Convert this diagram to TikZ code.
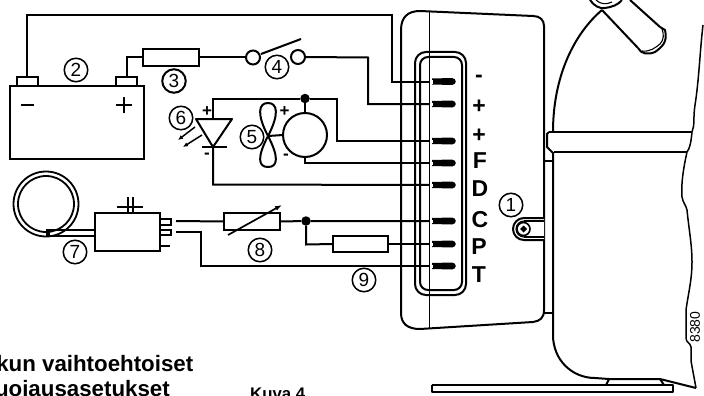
\documentclass[tikz,border=0pt]{standalone}
\usepackage{fontspec}
\setmainfont{Liberation Sans}
\usetikzlibrary{arrows.meta}
\tikzset{
  wire/.style={line width=2pt,line join=miter},
  outline/.style={line width=2pt,line join=round},
  thin outline/.style={line width=1.1pt,line join=round},
  part/.style={draw,line width=2pt,inner sep=0pt,outer sep=0pt,fill=white},
  callout/.style={draw,circle,line width=1.5pt,minimum size=23.5pt,inner sep=0pt,font=\fontsize{19}{19}\selectfont,fill=white},
  pinlabel/.style={font=\fontsize{23}{23}\selectfont\bfseries,inner sep=0pt},
  pol/.style={font=\fontsize{17}{17}\selectfont\bfseries,inner sep=0pt},
  junction/.style={circle,fill=black,minimum size=9.5pt,inner sep=0pt},
  caption/.style={anchor=base east,inner sep=0pt,font=\fontsize{22.3}{22.3}\selectfont\bfseries},
}
\begin{document}
\begin{tikzpicture}[x=1pt,y=-1pt]
\useasboundingbox (0,0) rectangle (704,396);
\clip (0,0) rectangle (704,396);

% panel
\draw[outline] (401,313) -- (401,30) .. controls (401,17) and (408,11) .. (420,11)
  -- (533,16) .. controls (540,16) and (544,20) .. (544,26) -- (544,310)
  .. controls (544,318) and (540,321) .. (533,322) -- (420,329)
  .. controls (408,329) and (401,324) .. (401,313) -- cycle;
\draw[thin outline] (429.7,11) -- (429.7,329);
\draw[outline,rounded corners=11pt] (415,52) rectangle (466,295);
\draw[outline,rounded corners=8pt] (420,57) rectangle (462,290);

% terminal coordinates
\foreach \n/\y in {tm/81.5,tp/104,tq/141,tf/163,td/185,tc/221,tr/244,tt/266}
  \coordinate (\n) at (431,\y);

% battery
\node[part,minimum width=134pt,minimum height=73pt] (bat) at (77,122.5) {};
\node[part,minimum width=21pt,minimum height=9pt] (batm) at (27.2,81.5) {};
\node[part,minimum width=21pt,minimum height=9pt] (batp) at (126.5,81.5) {};
\draw[outline] (21,105) -- (34,105);
\draw[outline] (116,105) -- (132,105) (124,97) -- (124,113);

% fuse, switch
\node[part,minimum width=56pt,minimum height=17pt] (fuse) at (171,57.5) {};
\node[part,circle,minimum size=14pt] (swa) at (253,57.5) {};
\node[part,circle,minimum size=14pt] (swb) at (298,57) {};
\coordinate (swarm) at (301,39);
\draw[outline] (261,54) -- (swarm);

% wires battery side
\coordinate (w1) at (392,14.9);
\coordinate (w2) at (368,57.5);
\draw[wire] (batm.north) -- (27.2,14.9) -- (w1) -- (392,81.5) -- (tm);
\draw[wire] (batp.north) -- (126.5,57.5) -- (fuse.west);
\draw[wire] (fuse.east) -- (swa.west);
\draw[wire] (swb.east) -- (w2) -- (368,104) -- (tp);

% motor and fan
\node[part,circle,minimum size=44pt] (mot) at (305,135) {};
\node[junction] (j1) at (305,98.5) {};
\coordinate (fan) at (268,136);
\draw[outline,fill=white] (fan) .. controls (257,115) and (258,103) .. (268,103)
  .. controls (278,103) and (279,115) .. (fan)
  .. controls (279,157) and (278,167) .. (268,167)
  .. controls (258,167) and (257,157) .. (fan) -- cycle;
\draw[wire] (fan) -- (mot.west);
\draw[wire] (j1) -- (mot.north);
\draw[wire] (j1) -- (337,98.5) -- (337,141) -- (tq);
\draw[wire] (mot.south) -- (305,163) -- (tf);

% diode
\coordinate (da) at (213,119);
\coordinate (dc) at (213,147);
\draw[outline] (196,119) -- (232,119) -- (dc) -- cycle;
\draw[outline] (202,147) -- (227,147);
\draw[wire] (j1) -- (213,98.5) -- (da);
\draw[wire] (dc) -- (213,184.5) -- (td);
\draw[line width=1.5pt,-{Latex[length=5pt,width=4.5pt]}] (195,127) -- (178,140);
\draw[line width=1.5pt,-{Latex[length=5pt,width=4.5pt]}] (202,135) -- (183,147);
\node[pol] (dp) at (207,112) {+};
\node[pol] (dm) at (207,155.5) {-};
\node[pol] (mp) at (284.5,111.5) {+};
\node[pol] (mm) at (286,156.5) {-};

% thermostat
\draw[line width=1.8pt] (46,204) circle[radius=32.5pt];
\draw[line width=1.8pt] (46,204) circle[radius=28pt];
\node[part,minimum width=65pt,minimum height=38pt] (ctl) at (127.5,232) {};
\draw[line width=1.6pt] (46,230) -- (ctl.west |- 0,230);
\draw[line width=1.6pt] (46,236) -- (ctl.west |- 0,236);
\draw[line width=3.4pt] (46,233.3) -- (50,233.3);
\draw[line width=1.6pt] (128,197) -- (128,213) (133,197) -- (133,213);
\draw[line width=1.6pt] (117,207) -- (143,207);
\draw[line width=1.6pt] (160,219) -- (171,219) -- (171,225) -- (160,225);
\draw[line width=1.6pt] (160,230) -- (171,230) -- (171,235) -- (160,235);
\draw[line width=1.6pt] (160,246) -- (170,246);

% rheostat, resistor
\node[part,minimum width=56pt,minimum height=17pt] (rh) at (252,221.5) {};
\node[part,minimum width=55pt,minimum height=16pt] (res) at (360.5,244) {};
\node[junction] (j2) at (306,221) {};
\coordinate (c1) at (176,221);
\coordinate (c2) at (176,232);
\draw[wire] (c1) -- (rh.west);
\draw[wire] (rh.east) -- (j2) -- (tc);
\draw[wire] (j2) -- (306,244.5) -- (res.west);
\draw[wire] (res.east) -- (tr);
\draw[wire] (c2) -- (201,232) -- (201,266) -- (tt);
\draw[line width=1.7pt,-{Latex[length=7pt,width=5pt]}] (228,235) -- (282,205);

% terminals
\foreach \n in {tm,tp,tq,tf,td,tc,tr,tt}{
  \fill ([xshift=1pt,yshift=-3pt]\n) -- ([xshift=21pt,yshift=-3.5pt]\n)
     .. controls ([xshift=26pt,yshift=-3pt]\n) and ([xshift=26pt,yshift=3pt]\n) .. ([xshift=21pt,yshift=3.5pt]\n)
     -- ([xshift=1pt,yshift=3pt]\n) -- cycle;
  \draw[white,fill=white,line width=0.3pt] ([xshift=-0.5pt,yshift=-1.2pt]\n) rectangle ([xshift=1.5pt,yshift=1.2pt]\n);
}

% pin labels
\node[pinlabel] (l1) at (479,78.5) {-};
\node[pinlabel] (l2) at (479,107) {+};
\node[pinlabel] (l3) at (479,136) {+};
\node[pinlabel] (l4) at (480,161) {F};
\node[pinlabel] (l5) at (480,188.5) {D};
\node[pinlabel] (l6) at (480,220) {C};
\node[pinlabel] (l7) at (479,247) {P};
\node[pinlabel] (l8) at (479,275) {T};

% compressor
\draw[outline] (553,132) .. controls (553,75) and (575,33) .. (602,10);
\draw[outline] (602,10) -- (638,48);
\draw[outline] (630,0) -- (660,27);
\draw[outline] (638,48) .. controls (641,54) and (648,55) .. (655,52)
  .. controls (662,47) and (668,42) .. (665,30) -- (660,27);
\draw[thin outline] (642,51) .. controls (650,52) and (655,48) .. (660,44) .. controls (664,40) and (664,34) .. (662,29);
\draw[outline] (590,0) .. controls (594,6) and (600,9) .. (605,8) .. controls (612,7) and (618,5) .. (622,0);
\draw[thin outline] (596,0) .. controls (600,4) and (606,5) .. (612,2);
\draw[outline] (549,132) -- (692,132);
\draw[outline] (554,152) -- (687,152);
\draw[outline] (549,132) -- (547,134) -- (547,147) -- (553,153);
\draw[outline] (553,152) -- (553,335) .. controls (553,360) and (572,378) .. (595,378) -- (609,379);
\draw[outline] (544,161) -- (553,161);
\draw[outline] (544,313) -- (553,313);
\draw[line width=1.5pt,line join=round] (703,25) .. controls (700,50) and (699,80) .. (695,105)
  .. controls (693,118) and (695,125) .. (692,132)
  .. controls (691,142) and (690,148) .. (687,152)
  .. controls (683,170) and (681,185) .. (682,197)
  .. controls (683,203) and (686,205) .. (687,210)
  .. controls (689,230) and (692,245) .. (692,262)
  .. controls (692,280) and (688,295) .. (686,310)
  -- (686,338) .. controls (686,343) and (690,342) .. (691,347)
  -- (691,361) -- (696,388);

% foot
\draw[line width=2.8pt] (431.5,385) -- (605,385);
\draw[outline] (605,385) -- (673,385) -- (673,392) -- (431.5,392) -- (431.5,385);
\draw[outline] (609,379) -- (606,385);
\draw[outline] (609,379) -- (660,379) -- (696,388);
\draw[outline] (660,379) -- (664,385);

% clamp bolt
\draw[outline,fill=white] (544,218) -- (524,218) arc[start angle=90,delta angle=180,radius=11pt] -- (544,240);
\draw[thin outline] (524,221) arc[start angle=90,delta angle=180,radius=8pt];
\draw[line width=1.2pt] (544,221) -- (524,221) (544,237) -- (524,237);
\node[draw,circle,line width=1.6pt,minimum size=13pt,inner sep=0pt,fill=white] (bolt) at (523.5,229) {};
\fill (523.5,225.5) -- (527,229) -- (523.5,232.5) -- (520,229) -- cycle;

% callouts
\node[callout] (n1) at (511,205) {1};
\node[callout] (n2) at (76,70) {2};
\node[callout,line width=2pt] (n3) at (174,81) {3};
\node[callout] (n4) at (277,67) {4};
\node[callout] (n5) at (252,137) {5};
\node[callout] (n6) at (181,118) {6};
\node[callout] (n7) at (75,252) {7};
\node[callout] (n8) at (260,250) {8};
\node[callout] (n9) at (364,280) {9};

% texts
\node[inner sep=0pt,rotate=90,font=\fontsize{14}{14}\selectfont] (code) at (695,327) {8380};
\node[caption] (t1) at (193.5,371) {kun vaihtoehtoiset};
\node[caption] (t2) at (170,396) {suojausasetukset};
\node[anchor=base east,inner sep=0pt,font=\fontsize{16.8}{16.8}\selectfont\bfseries] (t3) at (305.5,399) {Kuva 4};
\end{tikzpicture}
\end{document}
